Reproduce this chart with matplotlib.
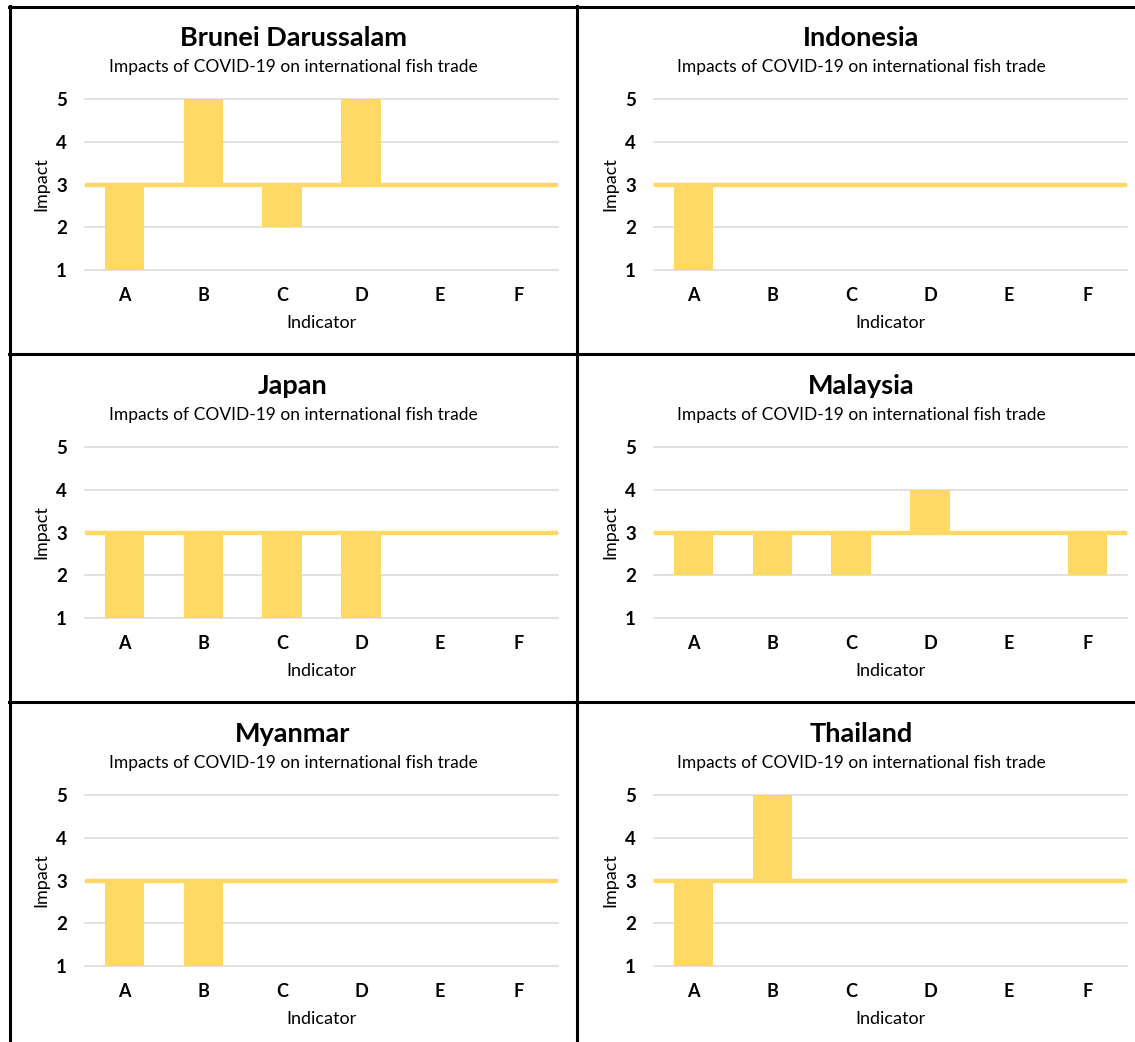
import matplotlib
matplotlib.use("Agg")
import matplotlib.pyplot as plt
from matplotlib.lines import Line2D

plt.rcParams["font.family"] = ["Lato", "DejaVu Sans"]

# ── data ─────────────────────────────────────────────────────────────────────
INDICATORS = ["A", "B", "C", "D", "E", "F"]
COUNTRIES  = ["Brunei Darussalam", "Indonesia", "Japan", "Malaysia", "Myanmar", "Thailand"]
BASELINE   = 3

brunei    = [1, 5, 2, 5, 3, 3]
indonesia = [1, 3, 3, 3, 3, 3]
japan     = [1, 1, 1, 1, 3, 3]
malaysia  = [2, 2, 2, 4, 3, 2]
myanmar   = [1, 1, 3, 3, 3, 3]
thailand  = [1, 5, 3, 3, 3, 3]

SERIES   = [brunei, indonesia, japan, malaysia, myanmar, thailand]
Y_TICKS  = [1, 2, 3, 4, 5]
SUBTITLE = "Impacts of COVID-19 on international fish trade"

YELLOW = "#FFD966"
GRID   = "#D9D9D9"

# ── figure / layout (pixel based) ────────────────────────────────────────────
W, H = 1135, 1042
fig = plt.figure(figsize=(W / 100, H / 100), dpi=100)
fig.patch.set_facecolor("white")

def fx(px):
    return px / W

def fy(py):
    return 1 - py / H

COL_X   = [85, 654]       # plot area left edge
PLOT_W  = 473
ROW_TOP = [99, 447, 795]  # y pixel of value 5
PLOT_H  = 171
PANEL_CX = [293, 861]     # title centre

for i, (name, vals) in enumerate(zip(COUNTRIES, SERIES)):
    r, c = divmod(i, 2)
    x0, y0 = COL_X[c], ROW_TOP[r]
    ax = fig.add_axes([fx(x0), fy(y0 + PLOT_H), fx(PLOT_W), PLOT_H / H])

    xs = range(len(INDICATORS))
    heights = [v - BASELINE for v in vals]
    ax.bar(xs, heights, bottom=BASELINE, width=0.5, color=YELLOW, zorder=2)
    ax.axhline(BASELINE, color=YELLOW, linewidth=3.2, zorder=3)

    ax.set_xlim(-0.5, len(INDICATORS) - 0.5)
    ax.set_ylim(min(Y_TICKS), max(Y_TICKS))
    ax.set_yticks(Y_TICKS)
    ax.set_xticks(list(xs))
    ax.set_xticklabels(INDICATORS, fontweight="bold", fontsize=13)
    ax.set_yticklabels([str(t) for t in Y_TICKS], fontweight="bold", fontsize=13.5)
    ax.tick_params(axis="x", length=0, pad=12)
    ax.tick_params(axis="y", length=0, pad=13)
    ax.yaxis.grid(True, color=GRID, linewidth=1.1, zorder=0)
    for gl in ax.yaxis.get_gridlines():
        gl.set_clip_on(False)
    ax.set_axisbelow(True)
    for s in ax.spines.values():
        s.set_visible(False)

    ax.set_xlabel("Indicator", fontsize=13, labelpad=8.5)
    ax.set_ylabel("Impact", fontsize=13, labelpad=5)

    cx = PANEL_CX[c]
    fig.text(fx(cx), fy(y0 - 61), name, ha="center", va="center",
             fontsize=19.5, fontweight="bold")
    fig.text(fx(cx), fy(y0 - 32), SUBTITLE, ha="center", va="center",
             fontsize=12.5)

# ── panel borders ────────────────────────────────────────────────────────────
def hline(py, x_from, x_to):
    fig.add_artist(Line2D([fx(x_from), fx(x_to)], [fy(py), fy(py)],
                          color="black", linewidth=2.2))

def vline(px, y_from, y_to):
    fig.add_artist(Line2D([fx(px), fx(px)], [fy(y_from), fy(y_to)],
                          color="black", linewidth=2.2))

hline(6.5, 9, W)
hline(354, 9, W)
hline(702, 9, W)
vline(9.5, 6, H)
vline(577, 6, H)

fig.savefig("out.png", dpi=100)
